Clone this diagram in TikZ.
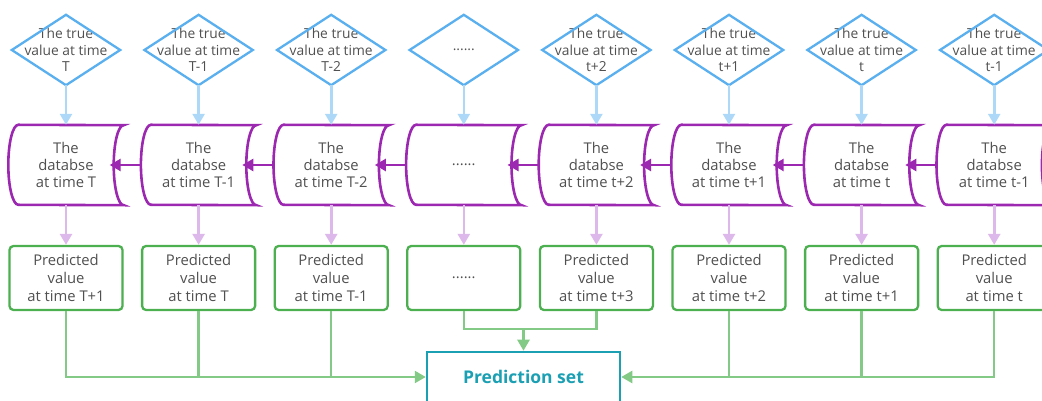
\documentclass[tikz,border=0pt]{standalone}
\usepackage{fontspec}
\setmainfont{Open Sans}
\usetikzlibrary{arrows.meta,calc}
\definecolor{dblue}{HTML}{5AAFEF}
\definecolor{lblue}{HTML}{ADD8F7}
\definecolor{cpurple}{HTML}{9C27B0}
\definecolor{lpurple}{HTML}{DDB8EA}
\definecolor{bgreen}{HTML}{4CAF50}
\definecolor{lgreen}{HTML}{82CA85}
\definecolor{teal2}{HTML}{1A9FB3}
\definecolor{txt}{HTML}{505050}
\tikzset{
  dtext/.style={minimum width=108pt,minimum height=70pt,inner sep=0pt,align=center,text=txt,font=\fontsize{13.8}{16.5}\selectfont},
  dshape/.style={draw=dblue,line width=2.3pt,line join=miter},
  ctext/.style={minimum width=115pt,minimum height=80pt,inner sep=0pt,align=center,text=txt,font=\fontsize{14.8}{17}\selectfont},
  cshape/.style={draw=cpurple,line width=2.6pt},
  pbox/.style={draw=bgreen,line width=2.3pt,rounded corners=4pt,minimum width=113pt,minimum height=64pt,inner sep=0pt,align=center,text=txt,font=\fontsize{14.8}{18}\selectfont},
  psbox/.style={draw=teal2,line width=2.5pt,minimum width=193pt,minimum height=50pt,inner sep=0pt,text=teal2,font=\fontsize{17.5}{20}\selectfont\bfseries},
  barrow/.style={draw=lblue,line width=2.6pt,-{Triangle[length=11pt,width=12pt]}},
  lparrow/.style={draw=lpurple,line width=2.6pt,-{Triangle[length=11pt,width=12pt]}},
  parrow/.style={draw=cpurple,line width=2.6pt,-{Triangle[length=11pt,width=12pt]}},
  gline/.style={draw=lgreen,line width=2.4pt},
  garrow/.style={draw=lgreen,line width=2.4pt,-{Triangle[length=11pt,width=12pt]}},
}
\newcommand\mkcolumn[5]{%
  \node[dtext] (d#1) at (#2,351) {#3};
  \draw[dshape] (d#1.north) -- (d#1.east) -- (d#1.south) -- (d#1.west) -- cycle;
  \node[ctext] (db#1) at (#2,236) {#4};
  \draw[cshape] ([xshift=10pt]db#1.north west) arc[start angle=90,end angle=270,x radius=10pt,y radius=40pt]
     -- (db#1.south east) arc[start angle=270,end angle=90,x radius=10pt,y radius=40pt] -- cycle;
  \node[pbox] (p#1) at (#2,123) {#5};
  \draw[barrow] (d#1.south) -- (db#1.north);
  \draw[lparrow] (db#1.south) -- (p#1.north);
}
\begin{document}
\begin{tikzpicture}[x=1pt,y=1pt]
\useasboundingbox (0,0) rectangle (1042,401);
\clip (0,0) rectangle (1042,401);
\mkcolumn{1}{66}{The true\\value at time\\T}{The\\databse\\at time T}{Predicted\\value\\at time T+1}
\mkcolumn{2}{198.6}{The true\\value at time\\T-1}{The\\databse\\at time T-1}{Predicted\\value\\at time T}
\mkcolumn{3}{331.2}{The true\\value at time\\T-2}{The\\databse\\at time T-2}{Predicted\\value\\at time T-1}
\mkcolumn{4}{463.8}{......}{......}{......}
\mkcolumn{5}{596.4}{The true\\value at time\\t+2}{The\\databse\\at time t+2}{Predicted\\value\\at time t+3}
\mkcolumn{6}{729}{The true\\value at time\\t+1}{The\\databse\\at time t+1}{Predicted\\value\\at time t+2}
\mkcolumn{7}{861.6}{The true\\value at time\\t}{The\\databse\\at time t}{Predicted\\value\\at time t+1}
\mkcolumn{8}{994.2}{The true\\value at time\\t-1}{The\\databse\\at time t-1}{Predicted\\value\\at time t}
\foreach \a/\b in {2/1,3/2,4/3,5/4,6/5,7/6,8/7}
  \draw[parrow] (db\a.west) -- ([xshift=-14pt]db\b.east);
\node[psbox] (ps) at (523.5,24) {Prediction set};
\draw[garrow] (p1.south) |- (ps.west);
\draw[gline] (p2.south) -- (p2.south |- ps.west);
\draw[gline] (p3.south) -- (p3.south |- ps.west);
\draw[garrow] (p8.south) |- (ps.east);
\draw[gline] (p7.south) -- (p7.south |- ps.east);
\draw[gline] (p6.south) -- (p6.south |- ps.east);
\coordinate (j) at ([yshift=22pt]ps.north);
\draw[gline] (p4.south) |- (j);
\draw[gline] (p5.south) |- (j);
\draw[garrow] (j) -- (ps.north);
\end{tikzpicture}
\end{document}
